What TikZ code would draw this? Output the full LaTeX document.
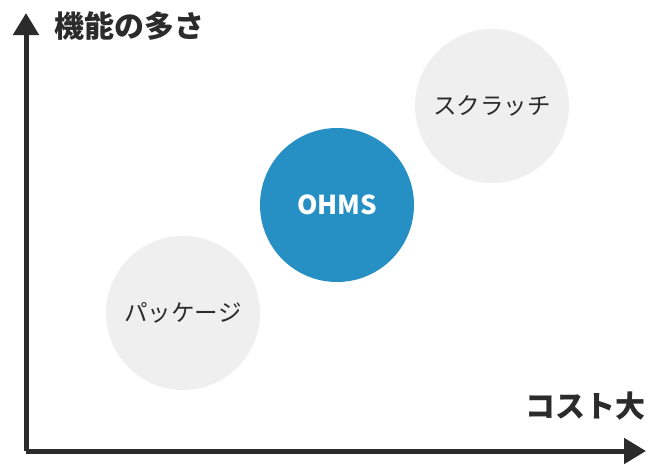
\documentclass[tikz,border=0pt]{standalone}
\usepackage{fontspec}
\setmainfont{Noto Sans CJK JP}
\usetikzlibrary{arrows.meta}
\definecolor{ohmsblue}{HTML}{2690C5}
\definecolor{pale}{HTML}{EFEFEF}
\definecolor{ink}{HTML}{2B2B2B}
\tikzset{%
    axi/.style={line width = 5pt, draw=ink, -{Triangle[length=22pt, width=25pt]}},
    lab/.style={font=\fontsize{30}{30}\selectfont\bfseries, text=ink, inner sep=0pt},
    bub/.style={circle, fill=pale, minimum size=154pt, inner sep=0pt, text=ink, font=\fontsize{23.5}{23.5}\selectfont},
    ohm/.style={circle, fill=ohmsblue, minimum size=154pt, inner sep=0pt, text=white, font=\fontsize{26}{26}\selectfont\bfseries},
}
\begin{document}
\begin{tikzpicture}[x=1pt, y=-1pt]
    \useasboundingbox (0,0) rectangle (658,464);
    \coordinate (O) at (26,451);
    \coordinate (Y) at (26,13);
    \coordinate (X) at (646,451);
    \draw [axi] (O) -- (Y);
    \draw [axi] (O) -- (X);
    \node [lab, anchor=west] (cap) at (54,26) {機能の多さ};
    \node [lab, anchor=east] (cost) at (646,406) {コスト大};
    \node [bub] (pkg) at (183,313) {パッケージ};
    \node [ohm] (ohms) at (337,205) {OHMS};
    \node [bub] (scr) at (492,106) {スクラッチ};
\end{tikzpicture}
\end{document}
